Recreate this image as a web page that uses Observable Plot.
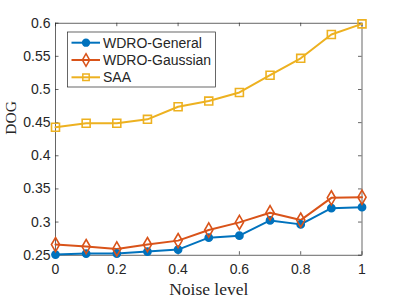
<!DOCTYPE html>
<html><head><meta charset="utf-8">
<script src="https://cdn.jsdelivr.net/npm/d3@7"></script>
<script src="https://cdn.jsdelivr.net/npm/@observablehq/plot@0.6"></script>
<style>body{margin:0;background:#fff} #chart{width:399px;height:299px}</style>
</head><body><div id="chart"></div>
<script>
const noiseLevels = [0, 0.1, 0.2, 0.3, 0.4, 0.5, 0.6, 0.7, 0.8, 0.9, 1];
const wdroGeneral = [0.251, 0.2525, 0.2525, 0.2555, 0.2585, 0.2765, 0.2795, 0.3025, 0.2965, 0.321, 0.3225];
const wdroGaussian = [0.266, 0.263, 0.2595, 0.266, 0.272, 0.288, 0.2995, 0.314, 0.303, 0.3365, 0.3375];
const saa = [0.443, 0.449, 0.449, 0.455, 0.474, 0.4825, 0.4955, 0.5215, 0.547, 0.583, 0.599];
const seriesNames = ["WDRO-General", "WDRO-Gaussian", "SAA"];
const seriesColors = ["#0072BD", "#D95319", "#EDB120"];
const seriesSymbols = ["circle", "diamond", "square"];
const xTicks = [0, 0.2, 0.4, 0.6, 0.8, 1];
const xTickLabels = ["0", "0.2", "0.4", "0.6", "0.8", "1"];
const yTicks = [0.25, 0.3, 0.35, 0.4, 0.45, 0.5, 0.55, 0.6];
const yTickLabels = ["0.25", "0.3", "0.35", "0.4", "0.45", "0.5", "0.55", "0.6"];
const xLabel = "Noise level";
const yLabel = "DOG";

const seriesValues = [wdroGeneral, wdroGaussian, saa];
const rows = seriesNames.flatMap((name, i) =>
  noiseLevels.map((x, j) => ({x, y: seriesValues[i][j], series: name})));

const W = 399, H = 299;
const mL = 55, mR = 37.5, mT = 22.7, mB = 44.3;
const plotW = W - mL - mR, plotH = H - mT - mB;
const tk = 3.5;
const axisColor = "#262626";
const sans = "'Liberation Sans', Arial, Helvetica, sans-serif";
const serif = "'Liberation Serif', 'Times New Roman', serif";

const markerR = [3.6, 4.3, 4.5];
const markerMarks = seriesNames.map((name, i) =>
  Plot.dot(rows.filter(r => r.series === name), {
    x: "x", y: "y", symbol: () => seriesSymbols[i],
    r: markerR[i],
    stroke: seriesColors[i], strokeWidth: 1.6,
    fill: i === 0 ? seriesColors[i] : "none"
  }));

const chart = Plot.plot({
  width: W, height: H,
  marginLeft: mL, marginRight: mR, marginTop: mT, marginBottom: mB,
  style: {background: "white", fontFamily: sans, color: axisColor, overflow: "visible"},
  x: {domain: [0, 1]},
  y: {domain: [0.25, 0.6]},
  color: {domain: seriesNames, range: seriesColors},
  symbol: {domain: seriesSymbols, range: seriesSymbols},
  marks: [
    Plot.frame({stroke: axisColor, strokeWidth: 0.7}),
    Plot.tickX(xTicks, {x: d => d, insetTop: plotH - tk, stroke: axisColor, strokeWidth: 0.7}),
    Plot.tickX(xTicks, {x: d => d, insetBottom: plotH - tk, stroke: axisColor, strokeWidth: 0.7}),
    Plot.tickY(yTicks, {y: d => d, insetRight: plotW - tk, stroke: axisColor, strokeWidth: 0.7}),
    Plot.tickY(yTicks, {y: d => d, insetLeft: plotW - tk, stroke: axisColor, strokeWidth: 0.7}),
    Plot.axisX({ticks: xTicks, tickSize: 0, tickPadding: 9, label: null, fontSize: 14,
      tickFormat: d => xTickLabels[xTicks.indexOf(d)]}),
    Plot.axisY({ticks: yTicks, tickSize: 0, tickPadding: 5, label: null, fontSize: 14,
      tickFormat: d => yTickLabels[yTicks.indexOf(d)]}),
    Plot.line(rows, {x: "x", y: "y", stroke: "series", z: "series", strokeWidth: 2}),
    ...markerMarks,
    Plot.text([xLabel], {text: d => d, frameAnchor: "bottom", lineAnchor: "bottom", dy: 40, fontSize: 17.5,
      fontFamily: serif, fill: axisColor}),
    Plot.text([yLabel], {text: d => d, frameAnchor: "left", dx: -44, dy: -4.5, rotate: -90, fontSize: 15.5,
      fontFamily: serif, fill: axisColor})
  ]
});

// Legend
const svg = d3.select(chart);
const lg = svg.append("g").attr("class", "legend");
const lx = 67.5, ly = 32, lw = 148, lh = 55;
lg.append("rect").attr("x", lx).attr("y", ly).attr("width", lw).attr("height", lh)
  .attr("fill", "white").attr("stroke", axisColor).attr("stroke-width", 0.7);
const legendR = [3.4, 3.8, 3.6];
seriesNames.forEach((name, i) => {
  const cy = 42.7 + i * 17.3;
  const g = lg.append("g");
  g.append("line").attr("x1", 71.5).attr("x2", 100).attr("y1", cy).attr("y2", cy)
    .attr("stroke", seriesColors[i]).attr("stroke-width", 2);
  const sym = d3.symbol().type(i === 0 ? d3.symbolCircle : i === 1 ? d3.symbolDiamond : d3.symbolSquare)
    .size(Math.PI * legendR[i] * legendR[i]);
  g.append("path").attr("d", sym()).attr("transform", `translate(86,${cy})`)
    .attr("fill", i === 0 ? seriesColors[i] : "none")
    .attr("stroke", seriesColors[i]).attr("stroke-width", 1.5);
  g.append("text").attr("x", 103).attr("y", cy).attr("dy", "0.36em")
    .attr("text-anchor", "start")
    .attr("font-size", 14).attr("font-family", sans).attr("fill", axisColor).text(name);
});

document.getElementById("chart").appendChild(chart);
</script>
</body></html>
